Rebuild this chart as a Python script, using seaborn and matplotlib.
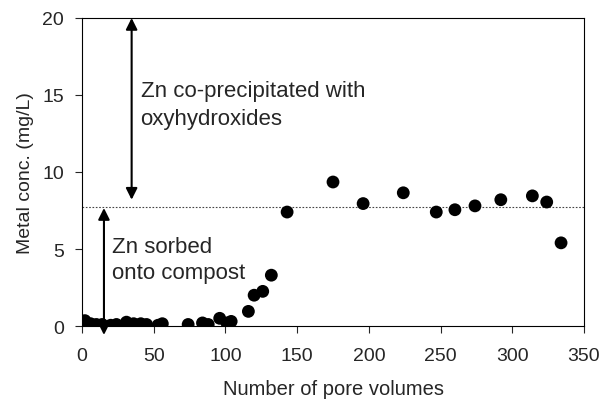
import numpy as np
import pandas as pd
import matplotlib
matplotlib.use("Agg")
import matplotlib.pyplot as plt
import seaborn as sns

pore_volumes = [2, 6, 10, 14, 20, 24, 31, 36, 41, 45, 53, 56, 74, 84, 88, 96, 101, 104,
                116, 120, 126, 132, 143, 175, 196, 224, 247, 260, 274, 292, 314, 324, 334]
zn_conc = [0.35, 0.15, 0.1, 0.1, 0.05, 0.1, 0.25, 0.15, 0.15, 0.1, 0.05, 0.15, 0.1, 0.2, 0.1,
           0.5, 0.2, 0.3, 0.95, 2.0, 2.25, 3.3, 7.4, 9.35, 7.95, 8.65, 7.4, 7.55, 7.8, 8.2,
           8.45, 8.05, 5.4]
influent_level = 7.7

df = pd.DataFrame({"PV": pore_volumes, "Conc": zn_conc})

sns.set_style("ticks")
plt.rcParams['font.family'] = ['Liberation Sans', 'DejaVu Sans']

fig = plt.figure(figsize=(6.03, 4.10), dpi=100)
ax = fig.add_axes([0.136, 0.2024, 0.8325, 0.7513])

ax.axhline(influent_level, color='#444444', linestyle=(0, (1.5, 1.5)), linewidth=0.8, zorder=1)

sns.scatterplot(data=df, x="PV", y="Conc", color='black', s=85, edgecolor='none',
                ax=ax, zorder=3, legend=False)

# double arrows
arrow_kw = dict(arrowstyle='<|-|>', color='black', lw=1.5, mutation_scale=17,
                shrinkA=0, shrinkB=0)
ax.annotate("", xy=(34.6, 20), xytext=(34.6, 8.2), arrowprops=arrow_kw,
            annotation_clip=False)
ax.annotate("", xy=(15.3, 7.66), xytext=(15.3, -0.58), arrowprops=arrow_kw,
            annotation_clip=False)

ax.text(40.8, 14.95, "Zn co-precipitated with", fontsize=16, va='baseline', ha='left')
ax.text(40.8, 13.1, "oxyhydroxides", fontsize=16, va='baseline', ha='left')
ax.text(20.6, 4.82, "Zn sorbed", fontsize=16, va='baseline', ha='left')
ax.text(20.6, 3.10, "onto compost", fontsize=16, va='baseline', ha='left')

ax.set_xlim(0, 350)
ax.set_ylim(0, 20)
ax.set_xticks(np.arange(0, 351, 50))
ax.set_yticks(np.arange(0, 21, 5))
ax.set_xlabel("Number of pore volumes", fontsize=14.5, labelpad=11)
ax.set_ylabel("Metal conc. (mg/L)", fontsize=14, labelpad=6)
ax.tick_params(axis='x', direction='out', length=5, width=0.8, pad=10, labelsize=14,
               top=False)
ax.tick_params(axis='y', direction='out', length=5, width=0.8, pad=8, labelsize=14,
               right=False)
for sp in ax.spines.values():
    sp.set_visible(True)
    sp.set_linewidth(0.8)
    sp.set_color('black')

fig.savefig("out.png", dpi=100)
